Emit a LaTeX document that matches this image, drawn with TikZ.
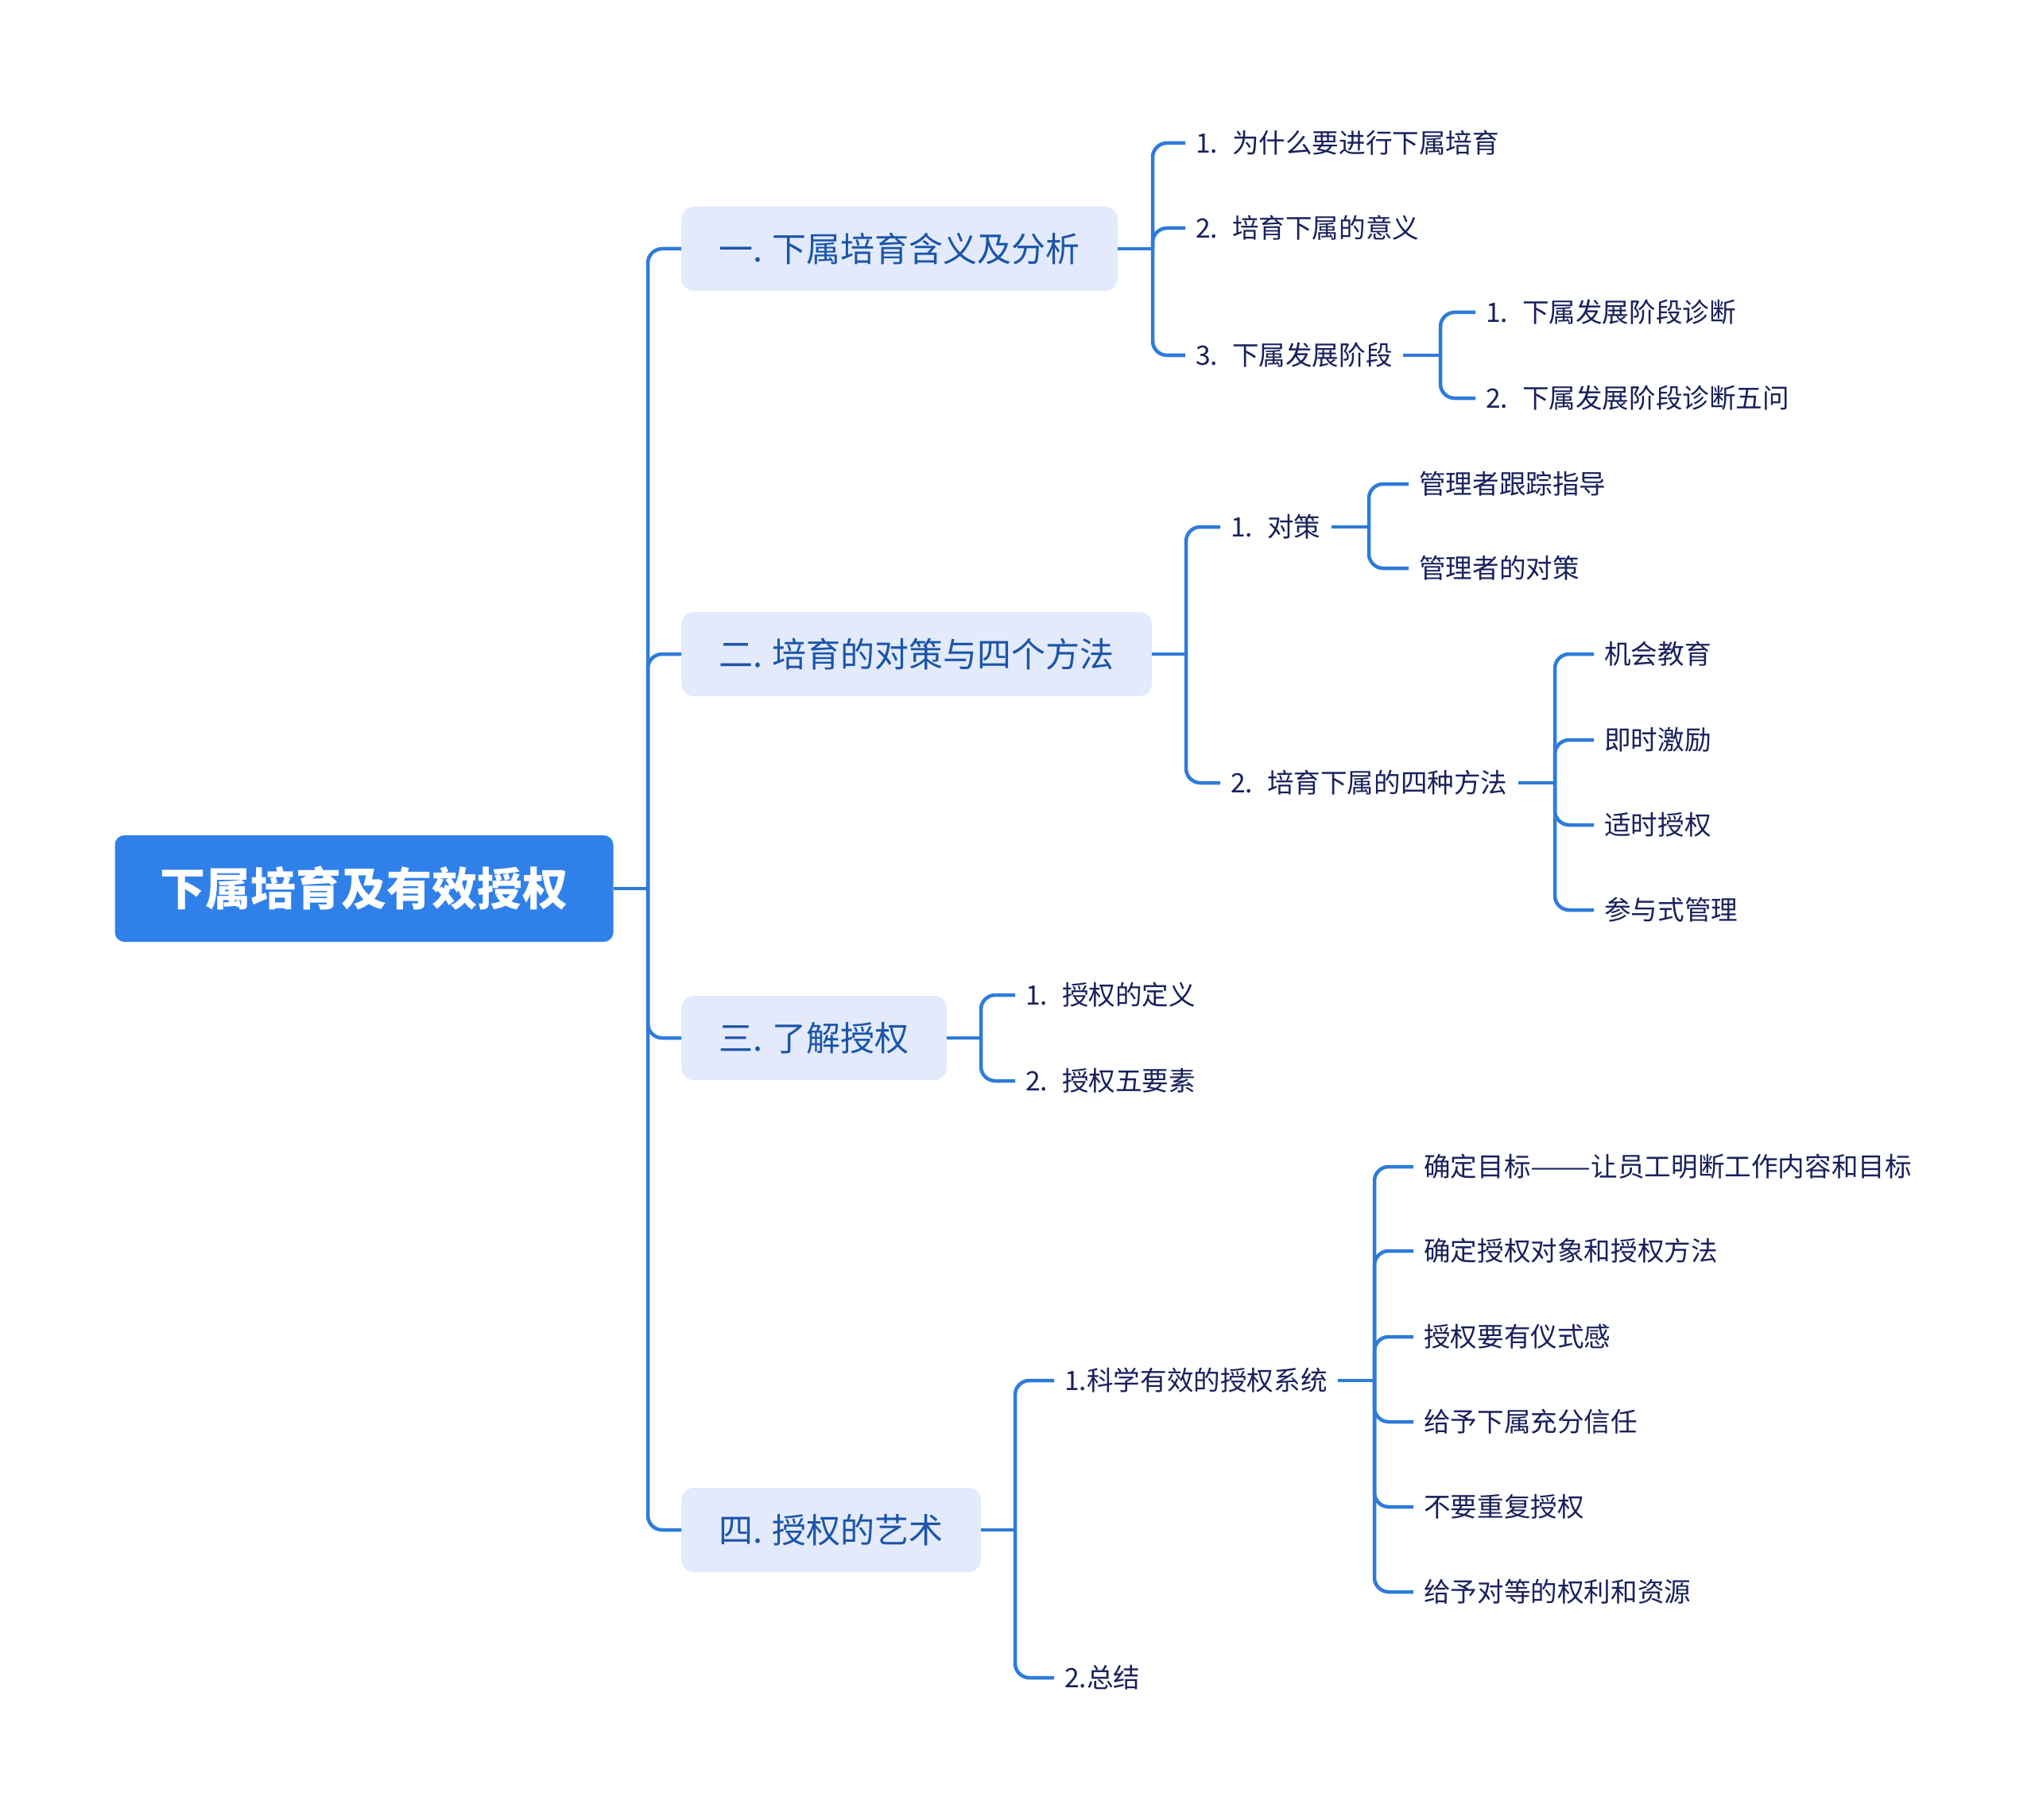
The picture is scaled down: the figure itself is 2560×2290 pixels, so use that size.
\documentclass[tikz,border=0pt]{standalone}
\usepackage{fontspec}
\usepackage{graphicx}
\setmainfont{Noto Sans CJK SC}
\definecolor{cblue}{HTML}{2E7BDA}
\definecolor{rootblue}{HTML}{3080EA}
\definecolor{lightfill}{HTML}{E2EAFC}
\definecolor{l1text}{HTML}{1C55A8}
\definecolor{navy}{HTML}{18205C}
\tikzset{
  conn/.style={draw=cblue, line width=4.5pt, rounded corners=18pt},
  rootbox/.style={fill=rootblue, rounded corners=12pt, text=white,
    font=\fontsize{57}{57}\selectfont\bfseries, inner xsep=57pt, inner ysep=0pt,
    minimum height=134pt, text height=50pt, text depth=7pt},
  lonebox/.style={fill=lightfill, rounded corners=16pt, text=l1text, anchor=west,
    font=\fontsize{43}{43}\selectfont, inner xsep=47pt, inner ysep=0pt,
    minimum height=106pt, text height=38pt, text depth=5pt},
  leaf/.style={text=navy, anchor=west, font=\fontsize{33.6}{33.6}\selectfont,
    inner xsep=13pt, inner ysep=0pt, text height=29pt, text depth=4pt},
}
\newcommand{\nsp}{\hspace{18pt}}
\begin{document}
\begin{tikzpicture}[x=1pt,y=-1pt]
\fill[white] (0,0) rectangle (2560,2290);
\useasboundingbox (0,0) rectangle (2560,2290);

% root
\node[rootbox] (root) at (458,1118) {下属培育及有效授权};

% level 1
\node[lonebox] (A) at (857,313) {一. 下属培育含义及分析};
\node[lonebox] (B) at (857,823) {二. 培育的对策与四个方法};
\node[lonebox] (C) at (857,1306) {三. 了解授权};
\node[lonebox] (D) at (857,1925) {四. 授权的艺术};

% A children
\node[leaf] (A1) at (1491,180) {1.\nsp 为什么要进行下属培育};
\node[leaf] (A2) at (1491,287) {2.\nsp 培育下属的意义};
\node[leaf] (A3) at (1491,447) {3.\nsp 下属发展阶段};
\node[leaf] (A3a) at (1856,393) {1.\nsp 下属发展阶段诊断};
\node[leaf] (A3b) at (1856,501) {2.\nsp 下属发展阶段诊断五问};

% B children
\node[leaf] (B1) at (1535,663) {1.\nsp 对策};
\node[leaf] (B2) at (1535,985) {2.\nsp 培育下属的四种方法};
\node[leaf] (B1a) at (1772,609) {管理者跟踪指导};
\node[leaf] (B1b) at (1772,715) {管理者的对策};
\node[leaf] (B2a) at (2005,823) {机会教育};
\node[leaf] (B2b) at (2005,931) {即时激励};
\node[leaf] (B2c) at (2005,1038) {适时授权};
\node[leaf] (B2d) at (2005,1145) {参与式管理};

% C children
\node[leaf] (C1) at (1277,1252) {1.\nsp 授权的定义};
\node[leaf] (C2) at (1277,1360) {2.\nsp 授权五要素};

% D children
\node[leaf] (D1) at (1326,1737) {1.科学有效的授权系统};
\node[leaf] (D2) at (1326,2111) {2.总结};
\node[leaf] (D1a) at (1778,1468) {确定目标\scalebox{1.35}[1]{——}让员工明断工作内容和目标};
\node[leaf] (D1b) at (1778,1574) {确定授权对象和授权方法};
\node[leaf] (D1c) at (1778,1682) {授权要有仪式感};
\node[leaf] (D1d) at (1778,1789) {给予下属充分信任};
\node[leaf] (D1e) at (1778,1896) {不要重复授权};
\node[leaf] (D1f) at (1778,2003) {给予对等的权利和资源};

% junctions
\coordinate (jR) at (815,1118);
\coordinate (jA) at (1450,313);
\coordinate (jA3) at (1812,447);
\coordinate (jB) at (1492,823);
\coordinate (jB1) at (1722,663);
\coordinate (jB2) at (1956,985);
\coordinate (jC) at (1234,1306);
\coordinate (jD) at (1277,1925);
\coordinate (jD1) at (1729,1737);

% connectors
\draw[conn] (root.east) -- (jR);
\foreach \c in {A,B,C,D} \draw[conn] (jR) |- (\c.west);

\draw[conn] (A.east) -- (jA);
\foreach \c in {A1,A2,A3} \draw[conn] (jA) |- (\c.west);
\draw[conn] (A3.east) -- (jA3);
\foreach \c in {A3a,A3b} \draw[conn] (jA3) |- (\c.west);

\draw[conn] (B.east) -- (jB);
\foreach \c in {B1,B2} \draw[conn] (jB) |- (\c.west);
\draw[conn] (B1.east) -- (jB1);
\foreach \c in {B1a,B1b} \draw[conn] (jB1) |- (\c.west);
\draw[conn] (B2.east) -- (jB2);
\foreach \c in {B2a,B2b,B2c,B2d} \draw[conn] (jB2) |- (\c.west);

\draw[conn] (C.east) -- (jC);
\foreach \c in {C1,C2} \draw[conn] (jC) |- (\c.west);

\draw[conn] (D.east) -- (jD);
\foreach \c in {D1,D2} \draw[conn] (jD) |- (\c.west);
\draw[conn] (D1.east) -- (jD1);
\foreach \c in {D1a,D1b,D1c,D1d,D1e,D1f} \draw[conn] (jD1) |- (\c.west);
\end{tikzpicture}
\end{document}
